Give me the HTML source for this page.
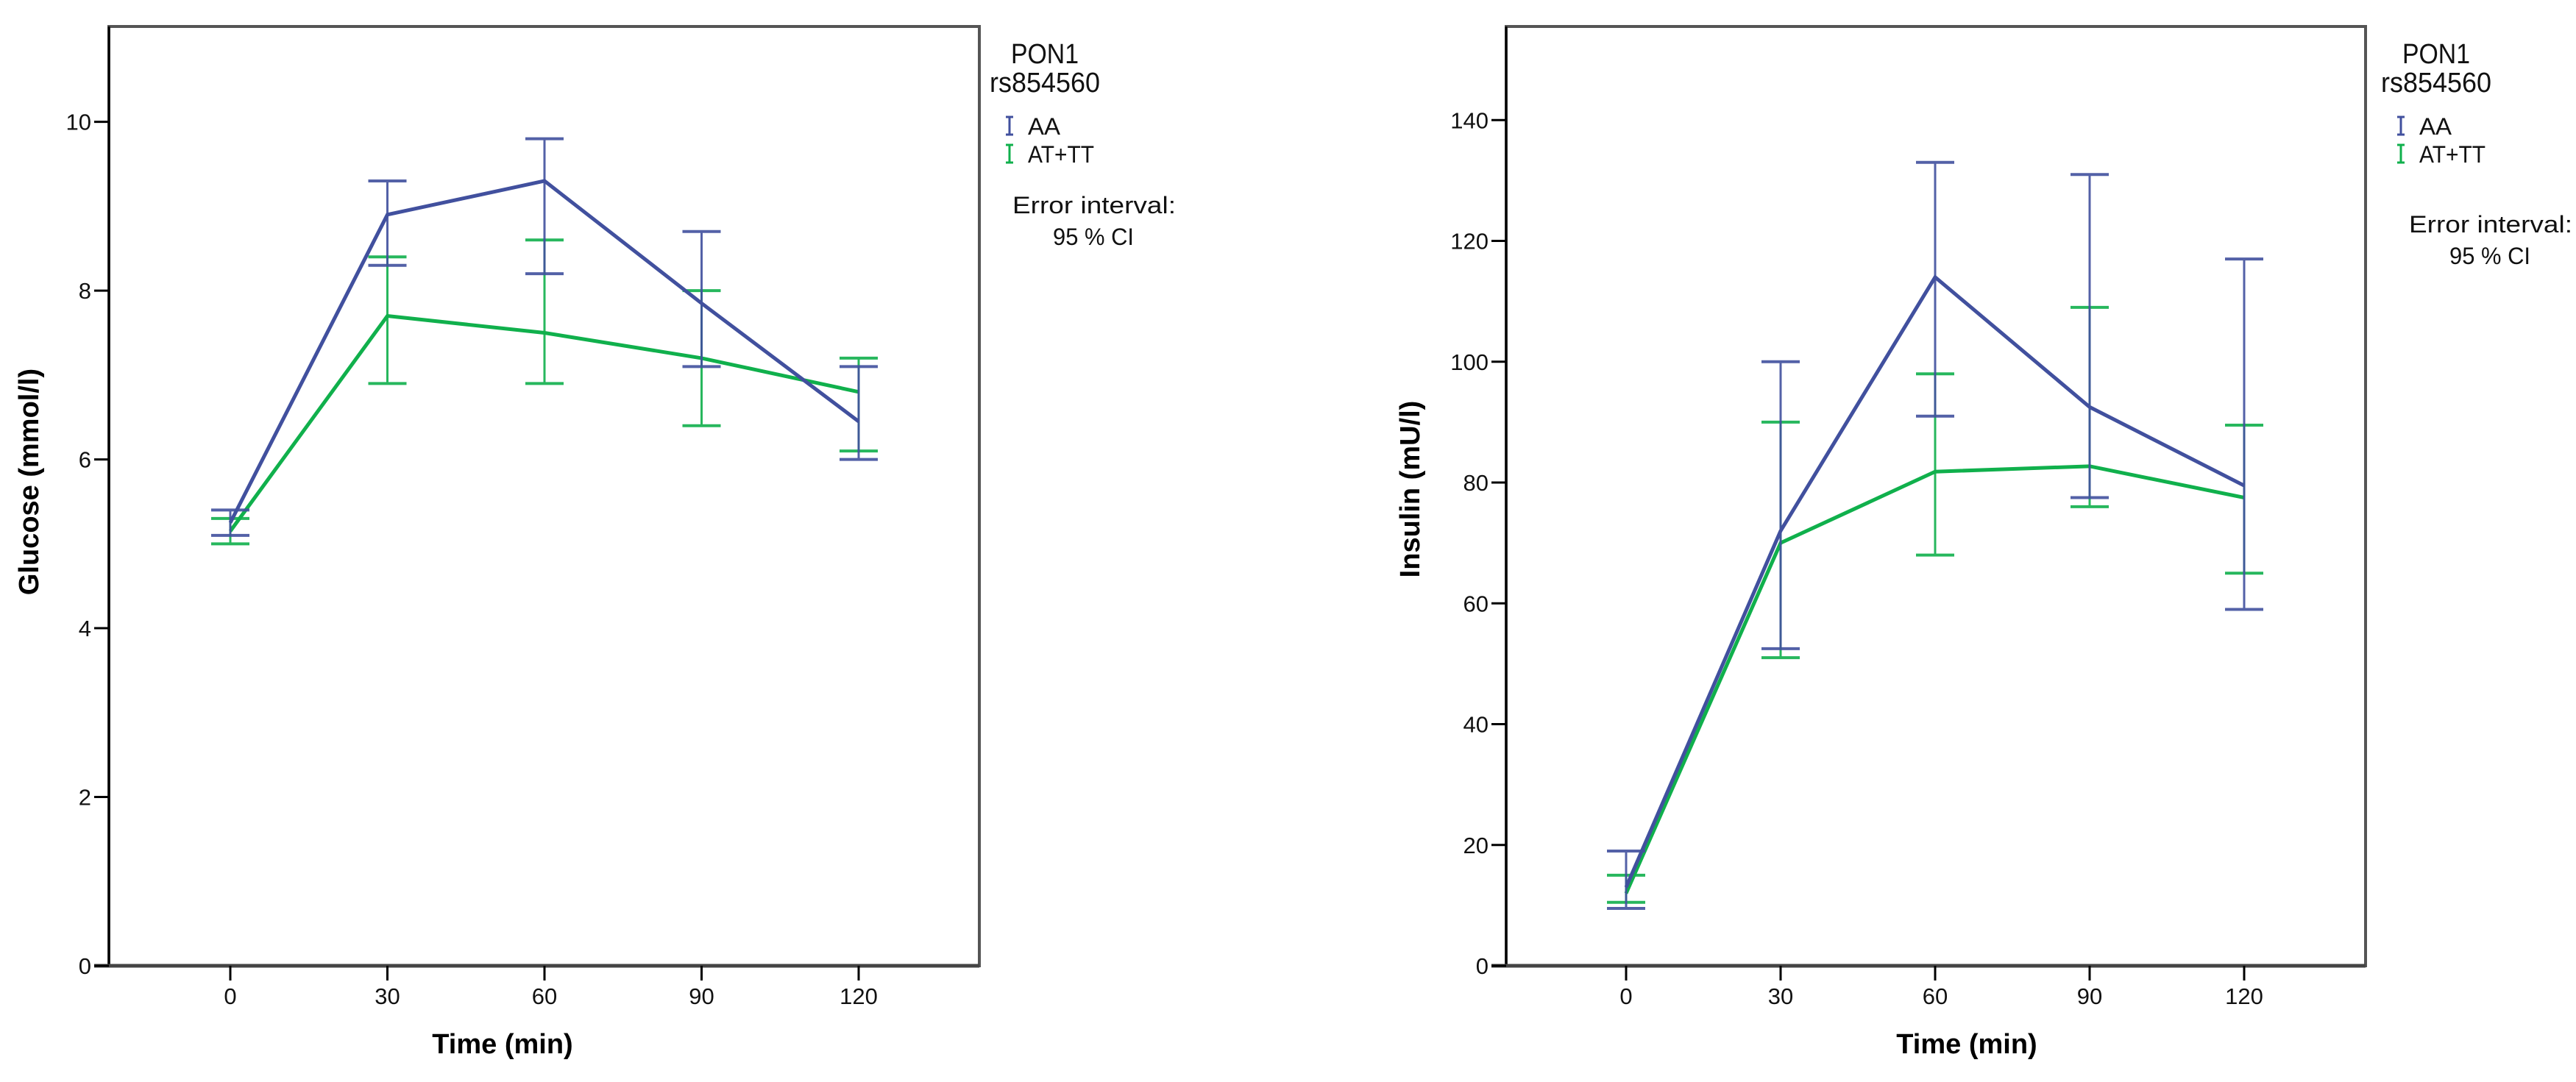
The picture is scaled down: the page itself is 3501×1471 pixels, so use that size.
<!DOCTYPE html>
<html><head><meta charset="utf-8"><style>
html,body{margin:0;padding:0;background:#fff;}
svg{display:block;}
</style></head><body>
<svg id="root" width="3501" height="1471" viewBox="0 0 3501 1471" xmlns="http://www.w3.org/2000/svg" font-family="Liberation Sans, sans-serif"></svg>
<script>
const timeCategories = [0, 30, 60, 90, 120];
const glucoseAAMean = [5.25, 8.9, 9.3, 7.85, 6.45];
const glucoseAALow  = [5.1, 8.3, 8.2, 7.1, 6.0];
const glucoseAAHigh = [5.4, 9.3, 9.8, 8.7, 7.1];
const glucoseATMean = [5.15, 7.7, 7.5, 7.2, 6.8];
const glucoseATLow  = [5.0, 6.9, 6.9, 6.4, 6.1];
const glucoseATHigh = [5.3, 8.4, 8.6, 8.0, 7.2];
const glucoseTicks = [0, 2, 4, 6, 8, 10];
const insulinAAMean = [13, 72, 114, 92.5, 79.5];
const insulinAALow  = [9.5, 52.5, 91, 77.5, 59];
const insulinAAHigh = [19, 100, 133, 131, 117];
const insulinATMean = [12, 70, 81.8, 82.7, 77.5];
const insulinATLow  = [10.5, 51, 68, 76, 65];
const insulinATHigh = [15, 90, 98, 109, 89.5];
const insulinTicks = [0, 20, 40, 60, 80, 100, 120, 140];

const NS = 'http://www.w3.org/2000/svg';
const root = document.getElementById('root');
function mk(tag, attrs, parent, text) {
  const e = document.createElementNS(NS, tag);
  for (const k in attrs) e.setAttribute(k, attrs[k]);
  if (text !== undefined) e.textContent = text;
  (parent || root).appendChild(e);
  return e;
}
const BLUE = '#41509e', GREEN = '#10b04c';

function chart(cfg) {
  const g = mk('g', {});
  
  
  const L = cfg.left, R = cfg.right, T = 36, B = 1313;
  const x = t => cfg.x0 + (t / 30) * cfg.step;
  const y = v => B - (v / cfg.ymax) * (B - T);
  // frame
  const fr = mk('rect', {x: L, y: T, width: R - L, height: B - T, fill: 'none', stroke: '#555', 'stroke-width': 4}, g);
  
  
  mk('line', {x1: L, y1: T, x2: L, y2: B, stroke: '#000', 'stroke-width': 3}, g);
  mk('line', {x1: L - 20, y1: B, x2: R, y2: B, stroke: '#444', 'stroke-width': 5}, g);
  // y ticks
  cfg.ticks.forEach(v => {
    mk('line', {x1: L - 20, y1: y(v), x2: L, y2: y(v), stroke: '#000', 'stroke-width': 3}, g);
    const t = mk('text', {x: L - 24, y: y(v) + 11, 'text-anchor': 'end', 'font-size': 31, fill: '#111'}, g, String(v));
    
    
  });
  // x ticks
  timeCategories.forEach(c => {
    mk('line', {x1: x(c), y1: B, x2: x(c), y2: B + 20, stroke: '#000', 'stroke-width': 3}, g);
    const t = mk('text', {x: x(c), y: B + 52, 'text-anchor': 'middle', 'font-size': 31, fill: '#111'}, g, String(c));
    
    
  });
  const xt = mk('text', {x: cfg.xtitleX, y: 1432, 'text-anchor': 'middle', 'font-size': 38, 'font-weight': 'bold', fill: '#000'}, g, 'Time (min)');
  
  
  const yt = mk('text', {x: 0, y: 0, 'text-anchor': 'middle', 'font-size': 38, 'font-weight': 'bold', fill: '#000', transform: `translate(${cfg.ytitleX},${cfg.ytitleY}) rotate(-90)`}, g, cfg.ytitle);
  
  
  // series
  cfg.series.forEach(s => {
    const sg = mk('g', {}, g);
    
    
    timeCategories.forEach((c, i) => {
      const eb = mk('g', {stroke: s.color, 'stroke-width': 3, opacity: 0.9}, sg);
      
      
      mk('line', {x1: x(c), y1: y(s.low[i]), x2: x(c), y2: y(s.high[i])}, eb);
      mk('line', {x1: x(c) - 26, y1: y(s.low[i]), x2: x(c) + 26, y2: y(s.low[i]), 'stroke-width': 4}, eb);
      mk('line', {x1: x(c) - 26, y1: y(s.high[i]), x2: x(c) + 26, y2: y(s.high[i]), 'stroke-width': 4}, eb);
    });
    const pts = timeCategories.map((c, i) => x(c) + ',' + y(s.mean[i])).join(' ');
    const pl = mk('polyline', {points: pts, fill: 'none', stroke: s.color, 'stroke-width': 5, 'stroke-linejoin': 'miter'}, sg);
    
    
  });
  // legend
  const lg = mk('g', {fill: '#111'}, g);
  
  
  const lx = cfg.legX;
  mk('text', {x: lx + 45, y: 86, 'text-anchor': 'middle', 'font-size': 38, textLength: 92, lengthAdjust: 'spacingAndGlyphs'}, lg, 'PON1');
  mk('text', {x: lx + 45, y: 125, 'text-anchor': 'middle', 'font-size': 38, textLength: 150, lengthAdjust: 'spacingAndGlyphs'}, lg, 'rs854560');
  [['AA', BLUE, 172], ['AT+TT', GREEN, 210]].forEach(([lab, col, yy]) => {
    const e = mk('g', {}, lg);
    
    
    mk('line', {x1: lx - 3, y1: yy - 13, x2: lx - 3, y2: yy + 11, stroke: col, 'stroke-width': 3}, e);
    mk('line', {x1: lx - 8, y1: yy - 13, x2: lx + 2, y2: yy - 13, stroke: col, 'stroke-width': 3}, e);
    mk('line', {x1: lx - 8, y1: yy + 11, x2: lx + 2, y2: yy + 11, stroke: col, 'stroke-width': 3}, e);
    mk('text', {x: lx + 22, y: yy + 11, 'font-size': 32, textLength: lab === 'AA' ? 44 : 90, lengthAdjust: 'spacingAndGlyphs'}, e, lab);
  });
  mk('text', {x: cfg.errX, y: cfg.errY, 'font-size': 32, textLength: 222, lengthAdjust: 'spacingAndGlyphs'}, lg, 'Error interval:');
  mk('text', {x: cfg.errX + 110, y: cfg.errY + 43, 'text-anchor': 'middle', 'font-size': 32, textLength: 110, lengthAdjust: 'spacingAndGlyphs'}, lg, '95 % CI');
}

chart({name: 'glucose-chart', left: 148, right: 1331, x0: 313, step: 213.5, ymax: 11.13,
  ticks: glucoseTicks, ytitle: 'Glucose (mmol/l)', ytitleX: 52, ytitleY: 655, xtitleX: 683,
  legX: 1375, errX: 1376, errY: 290,
  series: [
    {name: 'series-at-tt', color: GREEN, mean: glucoseATMean, low: glucoseATLow, high: glucoseATHigh},
    {name: 'series-aa', color: BLUE, mean: glucoseAAMean, low: glucoseAALow, high: glucoseAAHigh}]});
chart({name: 'insulin-chart', left: 2047, right: 3215, x0: 2210, step: 210, ymax: 155.5,
  ticks: insulinTicks, ytitle: 'Insulin (mU/l)', ytitleX: 1929, ytitleY: 665, xtitleX: 2673,
  legX: 3266, errX: 3274, errY: 316,
  series: [
    {name: 'series-at-tt', color: GREEN, mean: insulinATMean, low: insulinATLow, high: insulinATHigh},
    {name: 'series-aa', color: BLUE, mean: insulinAAMean, low: insulinAALow, high: insulinAAHigh}]});
</script>
</body></html>
